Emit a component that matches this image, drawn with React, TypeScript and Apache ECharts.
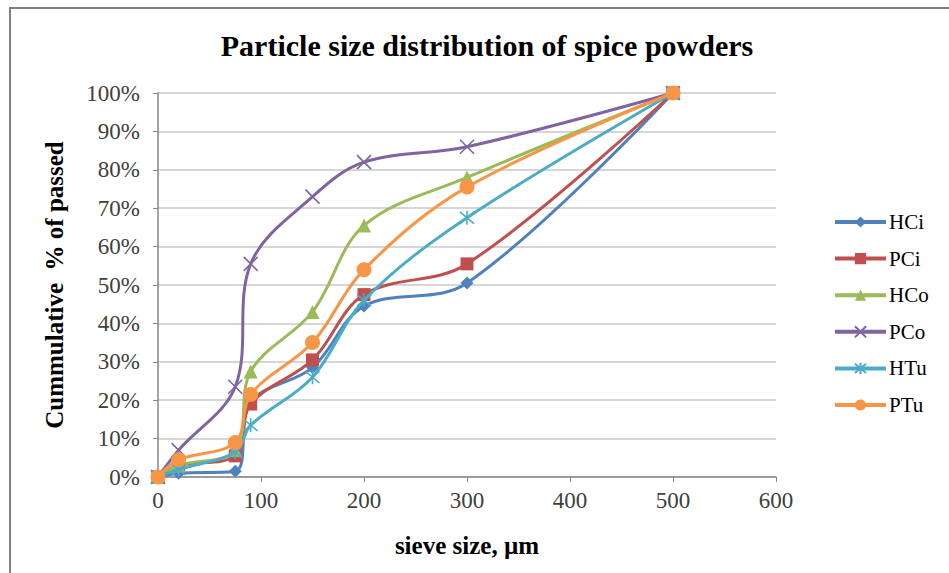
import React, { useEffect, useRef } from "react";
import * as echarts from "echarts";

// Sieve apertures (µm) and cumulative % passed for each spice powder
const sieveSizes = [0, 20, 75, 90, 150, 200, 300, 500];
const seriesNames = ["HCi", "PCi", "HCo", "PCo", "HTu", "PTu"];
const hci = [0, 1, 1.5, 19.5, 28.5, 44.5, 50.5, 100];
const pci = [0, 3, 5.5, 19, 30.5, 47.5, 55.5, 100];
const hco = [0, 3, 7, 27.5, 43, 65.5, 78, 100];
const pco = [0, 7, 23.5, 55.5, 73, 82, 86, 100];
const htu = [0, 2, 6.5, 13.5, 26, 46, 67.5, 100];
const ptu = [0, 4.5, 9, 21.5, 35, 54, 75.5, 100];

const values = [hci, pci, hco, pco, htu, ptu];
const colors = ["#4F81BD", "#C0504D", "#9BBB59", "#8064A2", "#4BACC6", "#F79646"];
const symbols = [
  "diamond",
  "rect",
  "triangle",
  "path://M0,0L10,10M10,0L0,10",
  "path://M0,0L10,10M10,0L0,10M5,-1L5,11",
  "circle",
];
const symbolSizes = [13, 13, 14, 14, 14, 15];

const FONT = "Liberation Serif";

export default function App() {
  const ref = useRef<HTMLDivElement>(null);

  useEffect(() => {
    if (!ref.current) return;
    const chart = echarts.init(ref.current, null, { renderer: "svg" });

    const series = seriesNames.map((name, i) => {
      const open = i === 3 || i === 4;
      return {
        name,
        type: "line",
        smooth: 0.35,
        data: sieveSizes.map((x, j) => [x, values[i][j]]),
        symbol: symbols[i],
        symbolSize: symbolSizes[i],
        showAllSymbol: true,
        lineStyle: { color: colors[i], width: 3 },
        itemStyle: open
          ? { color: colors[i], borderColor: colors[i], borderWidth: 1.6 }
          : { color: colors[i], borderColor: colors[i], borderWidth: 0 },
        z: 2 + i,
      };
    });

    chart.setOption({
      animation: false,
      backgroundColor: "#ffffff",
      textStyle: { fontFamily: FONT },
      grid: { left: 158, right: 173, top: 93, bottom: 96 },
      xAxis: {
        type: "value",
        min: 0,
        max: 600,
        interval: 100,
        axisLine: { show: true, lineStyle: { color: "#868686", width: 1.5 } },
        axisTick: { show: true, length: 5, lineStyle: { color: "#868686" } },
        splitLine: { show: false },
        axisLabel: { fontFamily: FONT, fontSize: 23, color: "#404040", margin: 12 },
        name: "sieve size, µm",
        nameLocation: "middle",
        nameGap: 56,
        nameTextStyle: { fontFamily: FONT, fontSize: 25, fontWeight: "bold", color: "#000" },
      },
      yAxis: {
        type: "value",
        min: 0,
        max: 100,
        interval: 10,
        axisLine: { show: true, lineStyle: { color: "#868686", width: 1.5 } },
        axisTick: { show: true, length: 5, lineStyle: { color: "#868686" } },
        splitLine: { show: true, lineStyle: { color: "#C8C8C8", width: 1.5 } },
        axisLabel: {
          fontFamily: FONT,
          fontSize: 23,
          color: "#404040",
          margin: 18,
          formatter: "{value}%",
        },
        name: "Cummulative  % of passed",
        nameLocation: "middle",
        nameGap: 91,
        nameTextStyle: { fontFamily: FONT, fontSize: 25, fontWeight: "bold", color: "#000" },
      },
      legend: {
        orient: "vertical",
        left: 833,
        top: 211,
        padding: 0,
        itemWidth: 51,
        itemHeight: 14,
        itemGap: 14.6,
        data: seriesNames,
        lineStyle: { width: 4 },
        textStyle: { fontFamily: FONT, fontSize: 21, color: "#000", lineHeight: 22, padding: [0, 0, 0, -2] },
      },
      graphic: [
        {
          type: "rect",
          shape: { x: 10, y: 8, width: 1200, height: 1000 },
          style: { fill: "none", stroke: "#808080", lineWidth: 2 },
          silent: true,
        },
        {
          type: "text",
          x: 487,
          y: 45,
          style: {
            text: "Particle size distribution of spice powders",
            fontFamily: FONT,
            fontSize: 30,
            fontWeight: "bold",
            fill: "#000",
            textAlign: "center",
            textVerticalAlign: "middle",
          },
        },
      ],
      series,
    });

    return () => chart.dispose();
  }, []);

  return (
    <div
      ref={ref}
      style={{ position: "fixed", left: 0, top: 0, width: 949, height: 573 }}
    />
  );
}
